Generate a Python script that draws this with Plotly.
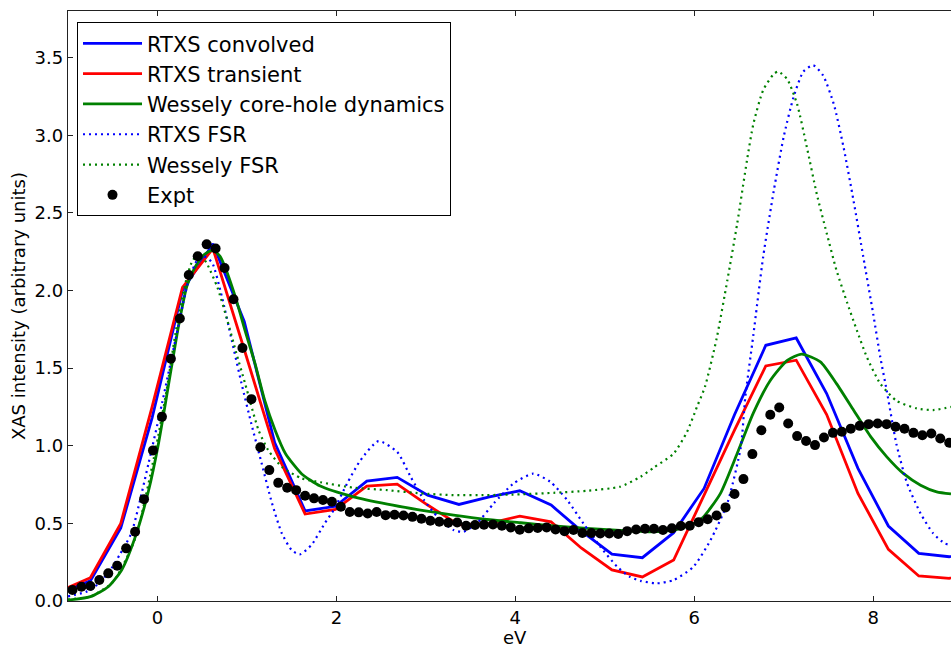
import plotly.graph_objects as go

# RTXS spectra are tabulated on a coarse energy grid (eV)
rtxs_energy = [-1.09, -0.75, -0.41, -0.06, 0.28, 0.62, 0.97, 1.31, 1.65, 1.99,
               2.34, 2.68, 3.02, 3.37, 3.71, 4.05, 4.40, 4.74, 5.08, 5.42,
               5.77, 6.11, 6.45, 6.80, 7.14, 7.48, 7.83, 8.17, 8.51, 8.85, 9.20]
rtxs_convolved = [0.055, 0.13, 0.47, 1.18, 2.00, 2.30, 1.80, 1.02, 0.58, 0.61,
                  0.772, 0.796, 0.682, 0.622, 0.671, 0.710, 0.618, 0.45, 0.302, 0.279,
                  0.44, 0.725, 1.20, 1.647, 1.694, 1.336, 0.854, 0.483, 0.307, 0.285, 0.32]
rtxs_transient = [0.065, 0.15, 0.50, 1.25, 2.02, 2.27, 1.62, 0.98, 0.56, 0.59,
                  0.74, 0.753, 0.618, 0.49, 0.50, 0.547, 0.51, 0.34, 0.20, 0.155,
                  0.264, 0.68, 1.10, 1.514, 1.551, 1.201, 0.693, 0.333, 0.161, 0.146, 0.20]

# Wessely core-hole dynamics
wessely_energy = [-1.0, -0.75, -0.55, -0.40, -0.25, -0.10, 0.01, 0.12, 0.235, 0.33,
                  0.42, 0.52, 0.62, 0.70, 0.756, 0.87, 0.98, 1.09, 1.20, 1.315,
                  1.43, 1.61, 1.82, 2.19, 2.57, 2.94, 3.31, 3.68, 4.06, 4.43,
                  4.80, 5.17, 5.50, 5.80, 6.00, 6.10, 6.29, 6.48, 6.66, 6.85,
                  7.04, 7.20, 7.41, 7.59, 7.78, 7.97, 8.15, 8.34, 8.53, 8.71, 8.87]
wessely_dyn = [0.006, 0.028, 0.092, 0.20, 0.41, 0.71, 1.01, 1.38, 1.77, 2.03,
               2.15, 2.23, 2.26, 2.22, 2.15, 1.96, 1.74, 1.53, 1.29, 1.10,
               0.95, 0.82, 0.74, 0.671, 0.624, 0.586, 0.553, 0.525, 0.504, 0.483,
               0.468, 0.455, 0.446, 0.46, 0.50, 0.54, 0.69, 0.95, 1.21, 1.42,
               1.55, 1.59, 1.54, 1.40, 1.23, 1.06, 0.93, 0.82, 0.746, 0.703, 0.69]

# RTXS final-state rule
rtxs_fsr_energy = [-1.0, -0.75, -0.55, -0.42, -0.29, -0.10, 0.05, 0.20, 0.35, 0.45,
                   0.52, 0.61, 0.72, 0.83, 0.94, 1.05, 1.165, 1.28, 1.39, 1.50,
                   1.59, 1.72, 1.87, 1.97, 2.12, 2.27, 2.47, 2.68, 2.83, 2.98,
                   3.13, 3.31, 3.42, 3.57, 3.76, 3.98, 4.20, 4.39, 4.58, 4.76,
                   4.95, 5.14, 5.28, 5.40, 5.58, 5.77, 5.99, 6.18, 6.37, 6.52,
                   6.57, 6.66, 6.77, 6.89, 7.00, 7.11, 7.22, 7.33, 7.44, 7.56,
                   7.67, 7.78, 7.89, 8.00, 8.08, 8.15, 8.26, 8.38, 8.53, 8.67,
                   8.80, 8.87]
rtxs_fsr = [0.03, 0.07, 0.18, 0.30, 0.44, 0.886, 1.27, 1.68, 2.07, 2.20,
            2.22, 2.18, 1.96, 1.68, 1.40, 1.14, 0.886, 0.63, 0.436, 0.328,
            0.30, 0.36, 0.50, 0.586, 0.757, 0.907, 1.03, 0.96, 0.80, 0.65,
            0.543, 0.457, 0.446, 0.50, 0.629, 0.757, 0.82, 0.768, 0.65, 0.50,
            0.35, 0.22, 0.156, 0.13, 0.114, 0.135, 0.22, 0.39, 0.63, 0.99,
            1.31, 1.71, 2.215, 2.645, 2.99, 3.245, 3.41, 3.45, 3.385, 3.20,
            2.92, 2.58, 2.215, 1.85, 1.57, 1.36, 1.01, 0.757, 0.564, 0.436,
            0.371, 0.36]

# Wessely final-state rule
wessely_fsr_energy = [-1.0, -0.75, -0.50, -0.25, -0.03, 0.10, 0.20, 0.30, 0.39, 0.47,
                      0.555, 0.67, 0.78, 0.88, 0.98, 1.13, 1.24, 1.39, 1.61, 1.82,
                      2.19, 2.57, 2.94, 3.31, 3.68, 4.06, 4.43, 4.80, 5.17, 5.40,
                      5.55, 5.77, 5.92, 6.03, 6.12, 6.25, 6.37, 6.48, 6.59, 6.66,
                      6.77, 6.89, 6.94, 7.04, 7.15, 7.26, 7.37, 7.48, 7.59, 7.71,
                      7.82, 7.93, 8.08, 8.26, 8.49, 8.67, 8.87]
wessely_fsr = [0.01, 0.03, 0.12, 0.40, 0.95, 1.35, 1.72, 2.02, 2.19, 2.24,
               2.17, 2.02, 1.81, 1.60, 1.40, 1.10, 0.97, 0.864, 0.79, 0.765,
               0.73, 0.714, 0.693, 0.682, 0.682, 0.687, 0.697, 0.71, 0.736, 0.80,
               0.86, 0.95, 1.09, 1.25, 1.38, 1.69, 2.066, 2.43, 2.84, 3.07,
               3.29, 3.395, 3.41, 3.36, 3.20, 2.92, 2.62, 2.37, 2.13, 1.92,
               1.74, 1.57, 1.40, 1.29, 1.24, 1.23, 1.25]

# Measured spectrum
expt_energy = [-0.95, -0.85, -0.75, -0.65, -0.55, -0.45, -0.35, -0.25, -0.15, -0.05,
               0.05, 0.15, 0.25, 0.35, 0.45, 0.55, 0.65, 0.75, 0.85, 0.95,
               1.05, 1.15, 1.25, 1.35, 1.45, 1.55, 1.65, 1.75, 1.85, 1.95,
               2.05, 2.15, 2.25, 2.35, 2.45, 2.55, 2.65, 2.75, 2.85, 2.95,
               3.05, 3.15, 3.25, 3.35, 3.45, 3.55, 3.65, 3.75, 3.85, 3.95,
               4.05, 4.15, 4.25, 4.35, 4.45, 4.55, 4.65, 4.75, 4.85, 4.95,
               5.05, 5.15, 5.25, 5.35, 5.45, 5.55, 5.65, 5.75, 5.85, 5.95,
               6.05, 6.15, 6.25, 6.35, 6.45, 6.55, 6.65, 6.75, 6.85, 6.95,
               7.05, 7.15, 7.25, 7.35, 7.45, 7.55, 7.65, 7.75, 7.85, 7.95,
               8.05, 8.15, 8.25, 8.35, 8.45, 8.55, 8.65, 8.75, 8.85]
expt = [0.071, 0.092, 0.097, 0.135, 0.178, 0.227, 0.339, 0.446, 0.656, 0.97,
        1.186, 1.56, 1.82, 2.10, 2.22, 2.297, 2.27, 2.145, 1.943, 1.63,
        1.30, 0.99, 0.843, 0.761, 0.729, 0.714, 0.678, 0.661, 0.65, 0.639,
        0.607, 0.573, 0.571, 0.564, 0.573, 0.553, 0.555, 0.551, 0.542, 0.53,
        0.517, 0.51, 0.504, 0.506, 0.485, 0.489, 0.491, 0.493, 0.485, 0.474,
        0.459, 0.468, 0.47, 0.474, 0.461, 0.45, 0.457, 0.438, 0.438, 0.435,
        0.435, 0.431, 0.45, 0.461, 0.465, 0.465, 0.457, 0.468, 0.483, 0.485,
        0.508, 0.526, 0.551, 0.603, 0.689, 0.785, 0.946, 1.10, 1.20, 1.246,
        1.143, 1.062, 1.03, 1.004, 1.053, 1.083, 1.09, 1.11, 1.128, 1.139,
        1.143, 1.139, 1.122, 1.109, 1.083, 1.068, 1.079, 1.047, 1.019]

x_ticks = [0, 2, 4, 6, 8]
y_ticks = [0.0, 0.5, 1.0, 1.5, 2.0, 2.5, 3.0, 3.5]

BLUE, RED, GREEN = "#0000ff", "#ff0000", "#008000"
FONT = "DejaVu Sans"

fig = go.Figure()
fig.add_trace(go.Scatter(x=rtxs_energy, y=rtxs_convolved, mode="lines",
                         name="RTXS convolved",
                         line=dict(color=BLUE, width=2.8)))
fig.add_trace(go.Scatter(x=rtxs_energy, y=rtxs_transient, mode="lines",
                         name="RTXS transient",
                         line=dict(color=RED, width=2.8)))
fig.add_trace(go.Scatter(x=wessely_energy, y=wessely_dyn, mode="lines",
                         name="Wessely core-hole dynamics",
                         line=dict(color=GREEN, width=2.8, shape="spline", smoothing=0.6)))
fig.add_trace(go.Scatter(x=rtxs_fsr_energy, y=rtxs_fsr, mode="lines",
                         name="RTXS FSR",
                         line=dict(color=BLUE, width=2.2, dash="2px,4px",
                                   shape="spline", smoothing=0.6)))
fig.add_trace(go.Scatter(x=wessely_fsr_energy, y=wessely_fsr, mode="lines",
                         name="Wessely FSR",
                         line=dict(color=GREEN, width=2.2, dash="2px,4px",
                                   shape="spline", smoothing=0.6)))
fig.add_trace(go.Scatter(x=expt_energy, y=expt, mode="markers",
                         name="Expt",
                         marker=dict(color="black", size=10)))

axis_common = dict(
    showgrid=False, zeroline=False, showline=True, linecolor="#222222", linewidth=1.3,
    ticks="inside", ticklen=5, tickwidth=1, tickcolor="#222222",
    tickfont=dict(family=FONT, size=18, color="black"),
)

fig.update_layout(
    width=951, height=646,
    margin=dict(l=68, r=0, t=11, b=45),
    paper_bgcolor="white", plot_bgcolor="white",
    font=dict(family=FONT, color="black"),
    xaxis=dict(range=[-1.0, 8.87], tickvals=x_ticks, mirror="ticks", **axis_common),
    yaxis=dict(range=[0, 3.8], tickvals=y_ticks, tickformat=".1f", **axis_common),
    showlegend=True,
    legend=dict(
        x=0.0102, y=0.981, xanchor="left", yanchor="top",
        bgcolor="white", bordercolor="black", borderwidth=1,
        font=dict(family=FONT, size=21, color="black"),
        traceorder="normal", itemwidth=59,
    ),
    annotations=[
        dict(text="XAS intensity (arbitrary units)", xref="paper", yref="paper",
             x=-0.0566, y=0.5, xanchor="center", yanchor="middle", textangle=-90,
             showarrow=False, font=dict(family=FONT, size=18, color="black")),
        dict(text="eV", xref="paper", yref="paper", x=0.5062, y=-0.061,
             xanchor="center", yanchor="middle", height=16, valign="middle",
             showarrow=False, font=dict(family=FONT, size=18, color="black")),
    ],
)

fig.write_html("out.html")
